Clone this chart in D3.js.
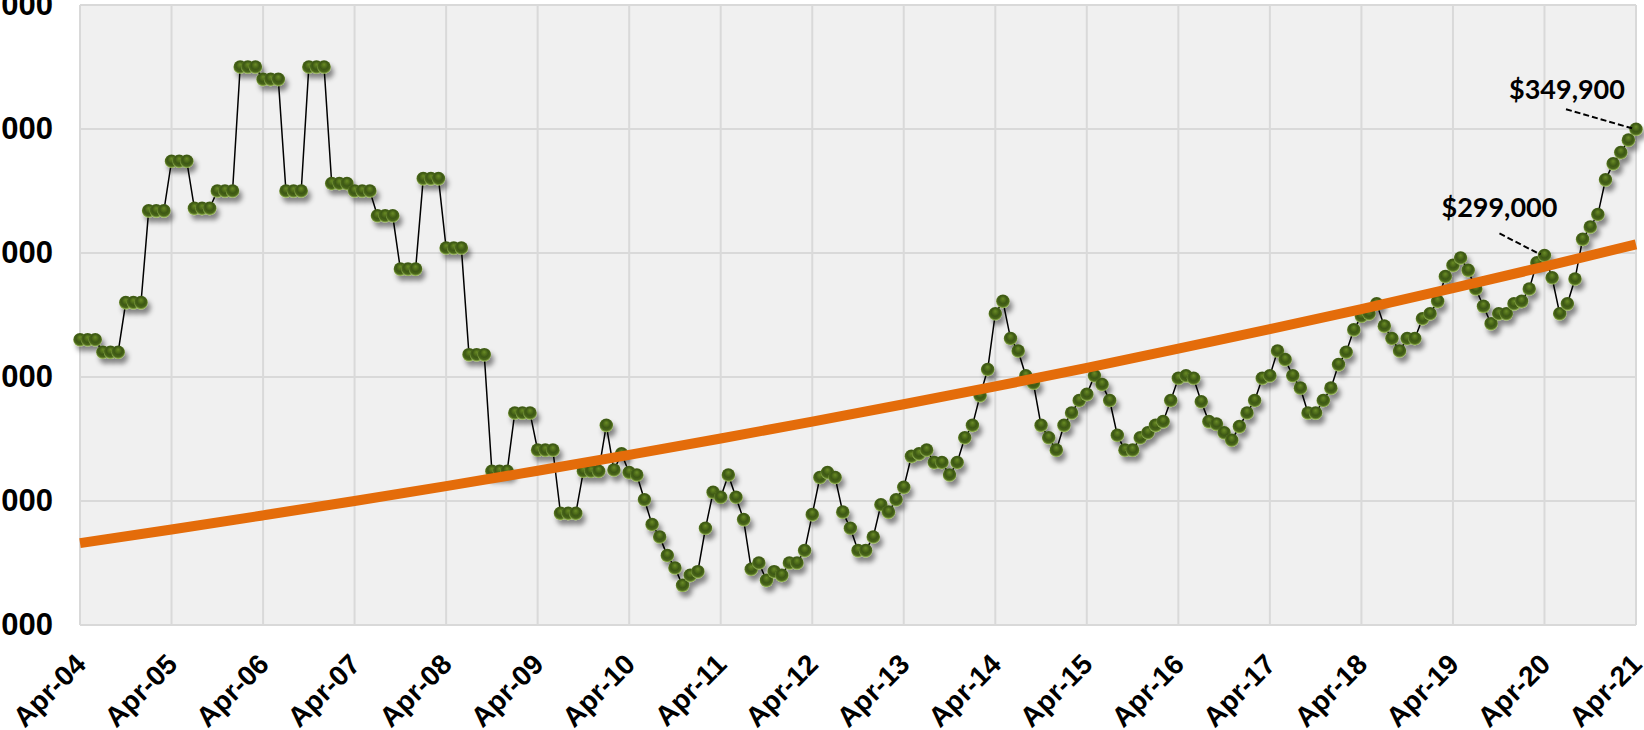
<!DOCTYPE html>
<html>
<head>
<meta charset="utf-8">
<script src="https://cdn.jsdelivr.net/npm/d3@7"></script>
<style>
  body { margin: 0; background: #fff; }
  svg { display: block; }
</style>
</head>
<body>
<svg id="chart" width="1644" height="730"></svg>
<script>
// Median price, monthly from Apr-04 (index 0) to Apr-21 (index 204), in $
// early years only change once a quarter
var prices = [
  265000, 265000, 265000, 260000, 260000, 260000, 280000, 280000, 280000,
  317000, 317000, 317000, 337000, 337000, 337000, 318000, 318000, 318000,
  325000, 325000, 325000, 375000, 375000, 375000, 370000, 370000, 370000,
  325000, 325000, 325000, 375000, 375000, 375000, 328000, 328000, 328000,
  325000, 325000, 325000, 315000, 315000, 315000, 293500, 293500, 293500,
  330000, 330000, 330000, 302000, 302000, 302000, 259000, 259000, 259000,
  212000, 212000, 212000, 235500, 235500, 235500, 220500, 220500, 220500,
  195000, 195000, 195000, 212000, 212000, 212000,
  230500, 212500, 219000, 211500, 210500, 200500, 190500, 185500, 178000, 173000,
  166000, 170000, 171500, 189000, 203500, 201500, 210500, 201500, 192500, 172500,
  175000, 168000, 171500, 170000, 175000, 175000, 180000, 194500, 209500, 211500,
  209500, 195500, 189000, 180000, 180000, 185500, 198500, 195500, 200500, 205500,
  218000, 219000, 220500, 215500, 215500, 210500, 215500, 225500, 230500, 242500,
  253000, 275500, 280500, 265500, 260500, 250500, 247500, 230500, 225500, 220500,
  230500, 235500, 240500, 243000, 250500, 247000, 240500, 226500, 220500, 220500,
  225500, 227500, 230500, 232000, 240500, 249500, 250500, 249500, 240000, 232000,
  231000, 227500, 224500, 230000, 235500, 240500, 249500, 250500, 260500, 257000,
  250500, 245500, 235500, 235500, 240500, 245500, 255000, 260000, 269000, 274500,
  275500, 279500, 270500, 265500, 260500, 265500, 265500, 273500, 275500, 280500,
  290500, 295000, 298000, 293000, 285500, 278500, 271500, 275500, 275500, 279500,
  280500, 285500, 296000, 299000, 290000, 275500, 279500, 289500, 305500, 310500,
  315500, 329500, 336000, 340500, 345500, 349900
];

// trend line, one value per April (index 0, 12, ... 204)
var trendMonths = [0, 12, 24, 36, 48, 60, 72, 84, 96, 108, 120, 132, 144, 156, 168, 180, 192, 204];
var trendValues = [183000, 188500, 194200, 200000, 206000, 212200, 218600, 225200, 232000,
                   239000, 246200, 253700, 261400, 269300, 277400, 285800, 294500, 303500];

var yearTicks = [0, 12, 24, 36, 48, 60, 72, 84, 96, 108, 120, 132, 144, 156, 168, 180, 192, 204];
var yearLabels = ["Apr-04", "Apr-05", "Apr-06", "Apr-07", "Apr-08", "Apr-09", "Apr-10", "Apr-11", "Apr-12",
                  "Apr-13", "Apr-14", "Apr-15", "Apr-16", "Apr-17", "Apr-18", "Apr-19", "Apr-20", "Apr-21"];
var priceTicks = [150000, 200000, 250000, 300000, 350000, 400000];

// labelled points: [month index, text]
var callouts = [[192, "$299,000"], [204, "$349,900"]];

var svg = d3.select("#chart");

var x = d3.scaleLinear().domain([0, 204]).range([80, 1636]),
    y = d3.scaleLinear().domain([150000, 400000]).range([625, 5]);

var defs = svg.append("defs");

var grad = defs.append("radialGradient")
    .attr("id", "ball")
    .attr("cx", "50%").attr("cy", "45%").attr("r", "55%")
    .attr("fx", "50%").attr("fy", "30%");
grad.append("stop").attr("offset", "0%").attr("stop-color", "#6a8c26");
grad.append("stop").attr("offset", "55%").attr("stop-color", "#3c5713");
grad.append("stop").attr("offset", "80%").attr("stop-color", "#4a671b");
grad.append("stop").attr("offset", "100%").attr("stop-color", "#a3c45e");

defs.append("filter")
    .attr("id", "shadow")
    .attr("x", "-50%").attr("y", "-50%").attr("width", "220%").attr("height", "220%")
  .append("feDropShadow")
    .attr("dx", 3).attr("dy", 5)
    .attr("stdDeviation", 2.5)
    .attr("flood-color", "#000")
    .attr("flood-opacity", 0.45);

// plot background
svg.append("rect")
    .attr("x", x(0)).attr("y", y(400000))
    .attr("width", x(204) - x(0)).attr("height", y(150000) - y(400000))
    .attr("fill", "#f0f0f0");

// grid
var grid = svg.append("g").attr("stroke", "#d9d9d9").attr("stroke-width", 2);
grid.selectAll(".v").data(yearTicks).enter().append("line")
    .attr("x1", d => x(d)).attr("x2", d => x(d))
    .attr("y1", y(400000)).attr("y2", y(150000));
grid.selectAll(".h").data(priceTicks).enter().append("line")
    .attr("x1", x(0)).attr("x2", x(204))
    .attr("y1", d => y(d)).attr("y2", d => y(d));

// y axis labels, running off the left edge like the original
var yAxis = d3.axisLeft(y)
    .tickValues(priceTicks)
    .tickSize(0)
    .tickPadding(0)
    .tickFormat(d3.format("$,"));
svg.append("g")
    .attr("transform", "translate(53,0)")
    .call(yAxis)
    .call(g => g.select(".domain").remove())
    .selectAll("text")
    .attr("fill", "#000")
    .attr("font-family", "Liberation Sans, Arial, sans-serif")
    .attr("font-weight", "bold")
    .attr("font-size", 31);

// x axis labels
var xAxis = d3.axisBottom(x)
    .tickValues(yearTicks)
    .tickSize(0)
    .tickFormat((d, i) => yearLabels[i]);
svg.append("g")
    .attr("transform", "translate(0,625)")
    .call(xAxis)
    .call(g => g.select(".domain").remove())
    .selectAll("text")
    .attr("fill", "#000")
    .attr("font-family", "Liberation Sans, Arial, sans-serif")
    .attr("font-weight", "bold")
    .attr("font-size", 28)
    .attr("text-anchor", "end")
    .attr("dy", 0)
    .attr("y", 0)
    .attr("transform", "translate(7,41) rotate(-45)");

// price line + markers
var line = d3.line()
    .x((d, i) => x(i))
    .y(d => y(d));

svg.append("path")
    .datum(prices)
    .attr("d", line)
    .attr("fill", "none")
    .attr("stroke", "#000")
    .attr("stroke-width", 1.5);

svg.append("g")
    .attr("filter", "url(#shadow)")
  .selectAll("circle")
  .data(prices)
  .enter().append("circle")
    .attr("cx", (d, i) => x(i))
    .attr("cy", d => y(d))
    .attr("r", 6.8)
    .attr("fill", "url(#ball)");

// trend
var trendLine = d3.line()
    .x((d, i) => x(trendMonths[i]))
    .y(d => y(d))
    .curve(d3.curveMonotoneX);

svg.append("path")
    .datum(trendValues)
    .attr("d", trendLine)
    .attr("fill", "none")
    .attr("stroke", "#e46c0a")
    .attr("stroke-width", 10);

// callouts
var labelPos = { 192: [-103, -38], 204: [-127, -30] };
var leaderStart = { 192: [-45, -22], 204: [-70, -20] };
callouts.forEach(function(c) {
  var px = x(c[0]), py = y(prices[c[0]]),
      lp = labelPos[c[0]], ls = leaderStart[c[0]];
  svg.append("line")
      .attr("x1", px + ls[0]).attr("y1", py + ls[1])
      .attr("x2", px - 4).attr("y2", py - 1)
      .attr("stroke", "#000")
      .attr("stroke-width", 2)
      .attr("stroke-dasharray", "6,3");
  svg.append("text")
      .attr("x", px + lp[0]).attr("y", py + lp[1])
      .attr("font-family", "Lato, sans-serif")
      .attr("font-weight", "bold")
      .attr("font-size", 27)
      .attr("fill", "#000")
      .text(c[1]);
});
</script>
</body>
</html>
